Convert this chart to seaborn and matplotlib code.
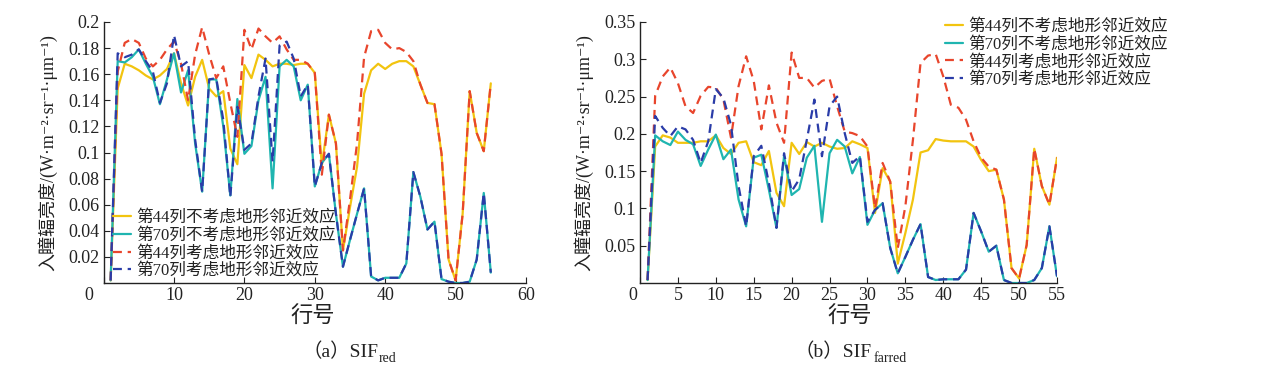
import numpy as np
import pandas as pd
import matplotlib
matplotlib.use("Agg")
import matplotlib.pyplot as plt
import matplotlib.transforms as mtransforms
import seaborn as sns

# ---------------- data ----------------
rows = list(range(1, 56))

# (a) SIF_red
red_c44_no = [0.002, 0.149, 0.168, 0.166, 0.163, 0.159, 0.156, 0.159, 0.164, 0.176,
              0.153, 0.136, 0.158, 0.171, 0.149, 0.143, 0.147, 0.103, 0.091, 0.167,
              0.157, 0.175, 0.171, 0.166, 0.168, 0.168, 0.167, 0.168, 0.168, 0.161,
              0.090, 0.129, 0.107, 0.025, 0.058, 0.089, 0.145, 0.163, 0.168, 0.164,
              0.168, 0.170, 0.170, 0.166, 0.152, 0.138, 0.137, 0.099, 0.018, 0.002,
              0.053, 0.147, 0.115, 0.101, 0.153]
red_c70_no = [0.002, 0.170, 0.169, 0.173, 0.179, 0.168, 0.158, 0.137, 0.156, 0.176,
              0.146, 0.163, 0.107, 0.070, 0.156, 0.156, 0.120, 0.067, 0.141, 0.099,
              0.105, 0.140, 0.158, 0.0725, 0.166, 0.171, 0.166, 0.140, 0.152, 0.074,
              0.092, 0.099, 0.053, 0.0125, 0.033, 0.053, 0.0725, 0.005, 0.002, 0.004,
              0.004, 0.004, 0.015, 0.085, 0.066, 0.041, 0.047, 0.003, 0.001, 0.000,
              0.000, 0.001, 0.018, 0.069, 0.008]
red_c44_yes = [0.002, 0.162, 0.184, 0.187, 0.184, 0.172, 0.166, 0.171, 0.179, 0.185,
               0.168, 0.140, 0.175, 0.196, 0.175, 0.157, 0.166, 0.138, 0.112, 0.194,
               0.179, 0.195, 0.189, 0.184, 0.189, 0.179, 0.171, 0.171, 0.168, 0.161,
               0.083, 0.129, 0.107, 0.025, 0.064, 0.107, 0.173, 0.193, 0.194, 0.184,
               0.179, 0.180, 0.177, 0.170, 0.152, 0.138, 0.137, 0.099, 0.018, 0.002,
               0.053, 0.147, 0.115, 0.101, 0.153]
red_c70_yes = [0.002, 0.176, 0.173, 0.175, 0.179, 0.170, 0.162, 0.138, 0.153, 0.190,
               0.166, 0.170, 0.110, 0.070, 0.156, 0.157, 0.125, 0.066, 0.135, 0.102,
               0.107, 0.143, 0.172, 0.093, 0.182, 0.185, 0.172, 0.143, 0.152, 0.074,
               0.092, 0.099, 0.053, 0.0125, 0.033, 0.053, 0.0725, 0.005, 0.002, 0.004,
               0.004, 0.004, 0.015, 0.085, 0.066, 0.041, 0.047, 0.003, 0.001, 0.000,
               0.000, 0.001, 0.018, 0.069, 0.008]

# (b) SIF_farred
far_c44_no = [0.004, 0.183, 0.198, 0.195, 0.188, 0.188, 0.188, 0.190, 0.190, 0.198,
              0.181, 0.173, 0.188, 0.190, 0.162, 0.158, 0.177, 0.121, 0.103, 0.188,
              0.173, 0.189, 0.183, 0.188, 0.183, 0.180, 0.181, 0.190, 0.186, 0.181,
              0.094, 0.154, 0.136, 0.026, 0.067, 0.112, 0.175, 0.178, 0.193, 0.191,
              0.190, 0.190, 0.190, 0.183, 0.165, 0.150, 0.152, 0.112, 0.020, 0.006,
              0.051, 0.180, 0.130, 0.105, 0.168]
far_c70_no = [0.004, 0.198, 0.190, 0.185, 0.203, 0.192, 0.186, 0.157, 0.179, 0.199,
              0.166, 0.179, 0.112, 0.076, 0.168, 0.172, 0.125, 0.074, 0.170, 0.118,
              0.126, 0.168, 0.184, 0.082, 0.174, 0.192, 0.183, 0.147, 0.169, 0.078,
              0.098, 0.107, 0.047, 0.013, 0.035, 0.058, 0.079, 0.008, 0.004, 0.005,
              0.005, 0.005, 0.018, 0.094, 0.069, 0.042, 0.050, 0.004, 0.000, 0.000,
              0.000, 0.004, 0.020, 0.076, 0.009]
far_c44_yes = [0.004, 0.251, 0.277, 0.289, 0.268, 0.237, 0.228, 0.251, 0.263, 0.262,
               0.246, 0.195, 0.264, 0.304, 0.271, 0.206, 0.265, 0.215, 0.188, 0.309,
               0.275, 0.275, 0.262, 0.271, 0.274, 0.237, 0.203, 0.201, 0.197, 0.183,
               0.100, 0.161, 0.136, 0.047, 0.103, 0.192, 0.295, 0.305, 0.307, 0.277,
               0.239, 0.235, 0.219, 0.190, 0.168, 0.156, 0.152, 0.112, 0.020, 0.006,
               0.051, 0.180, 0.130, 0.105, 0.168]
far_c70_yes = [0.004, 0.224, 0.208, 0.197, 0.210, 0.206, 0.192, 0.161, 0.190, 0.260,
               0.248, 0.212, 0.130, 0.076, 0.170, 0.184, 0.134, 0.074, 0.174, 0.123,
               0.139, 0.192, 0.246, 0.170, 0.237, 0.250, 0.201, 0.161, 0.170, 0.082,
               0.098, 0.107, 0.047, 0.013, 0.035, 0.058, 0.079, 0.008, 0.004, 0.005,
               0.005, 0.005, 0.018, 0.094, 0.069, 0.042, 0.050, 0.004, 0.000, 0.000,
               0.000, 0.004, 0.020, 0.076, 0.009]

series_labels = ["第44列不考虑地形邻近效应", "第70列不考虑地形邻近效应",
                 "第44列考虑地形邻近效应", "第70列考虑地形邻近效应"]
red_ticks_x = [0, 10, 20, 30, 40, 50, 60]
red_ticks_y = [0.02, 0.04, 0.06, 0.08, 0.1, 0.12, 0.14, 0.16, 0.18, 0.2]
red_ticklabels_y = ["0.02", "0.04", "0.06", "0.08", "0.1", "0.12", "0.14", "0.16", "0.18", "0.2"]
far_ticks_x = [0, 5, 10, 15, 20, 25, 30, 35, 40, 45, 50, 55]
far_ticks_y = [0.05, 0.1, 0.15, 0.2, 0.25, 0.3, 0.35]
far_ticklabels_y = ["0.05", "0.1", "0.15", "0.2", "0.25", "0.3", "0.35"]
xlabel = "行号"
ylabel = "入瞳辐亮度/(W·m⁻²·sr⁻¹·μm⁻¹)"
captions = [("（a）SIF", "red"), ("（b）SIF", "farred")]

# ---------------- style ----------------
sns.set_theme(style="ticks")
FAM = ["Liberation Serif", "Noto Sans CJK SC", "DejaVu Serif"]
plt.rcParams["font.family"] = FAM
plt.rcParams["axes.unicode_minus"] = False
INK = "#222222"

colors = ["#F2C40F", "#1FB5B0", "#E8452C", "#2A3CA8"]
styles = ["solid", "solid", "dash", "dash"]

fig = plt.figure(figsize=(12.69, 3.71), dpi=100)
ax1 = fig.add_axes([103.6 / 1269, 1 - 283 / 371, (526 - 103.6) / 1269, (283 - 22) / 371])
ax2 = fig.add_axes([640 / 1269, 1 - 283 / 371, (1057 - 640) / 1269, (283 - 22) / 371])


def draw(ax, data_list):
    frames = []
    for lab, vals in zip(series_labels, data_list):
        frames.append(pd.DataFrame({"row": rows, "val": vals, "series": lab}))
    df = pd.concat(frames, ignore_index=True)
    for lab, col, st in zip(series_labels, colors, styles):
        sub = df[df["series"] == lab]
        kw = dict(lw=1.6, color=col, label=lab)
        if st == "dash":
            kw["dashes"] = (4, 2.6)
            kw["lw"] = 1.6
        sns.lineplot(data=sub, x="row", y="val", ax=ax, estimator=None, sort=False, **kw)


draw(ax1, [red_c44_no, red_c70_no, red_c44_yes, red_c70_yes])
draw(ax2, [far_c44_no, far_c70_no, far_c44_yes, far_c70_yes])

for ax, xt, yt, ytl, xlim, ylim, zshift in [
    (ax1, red_ticks_x, red_ticks_y, red_ticklabels_y, (0, 60), (0, 0.2), -15),
    (ax2, far_ticks_x, far_ticks_y, far_ticklabels_y, (0, 55), (0, 0.35), -7),
]:
    ax.set_xlim(*xlim)
    ax.set_ylim(*ylim)
    ax.set_xticks(xt)
    ax.set_xticklabels([str(v) for v in xt])
    ax.set_yticks(yt)
    ax.set_yticklabels(ytl)
    for s in ["top", "right"]:
        ax.spines[s].set_visible(False)
    for s in ["left", "bottom"]:
        ax.spines[s].set_color(INK)
        ax.spines[s].set_linewidth(1.0)
    ax.tick_params(direction="in", length=4, width=0.8, colors=INK,
                   labelsize=13, pad=3)
    for t in ax.get_xticklabels() + ax.get_yticklabels():
        t.set_family(FAM)
        t.set_color(INK)
    # the "0" label sits a little left of the origin in the reference
    lbl0 = ax.get_xticklabels()[0]
    lbl0.set_transform(lbl0.get_transform() +
                       mtransforms.ScaledTranslation(zshift / 100, 0, fig.dpi_scale_trans))
    ax.set_xlabel("")
    ax.set_ylabel(ylabel, fontsize=13, family=FAM, color=INK, labelpad=8)
    ax.set_facecolor("white")

leg_prop = dict(family=FAM, size=12)
l1 = ax1.legend(loc="lower left", bbox_to_anchor=(113 / 1269, 1 - 279 / 371),
                bbox_transform=fig.transFigure, frameon=False,
                prop=leg_prop, handlelength=1.1, handletextpad=0.3,
                labelspacing=0.1, borderaxespad=0.0, borderpad=0.0)
l2 = ax2.legend(loc="upper left", bbox_to_anchor=(945 / 1269, 1 - 19 / 371),
                bbox_transform=fig.transFigure, frameon=False,
                prop=leg_prop, handlelength=1.1, handletextpad=0.3,
                labelspacing=0.1, borderaxespad=0.0, borderpad=0.0)
for l in (l1, l2):
    for t in l.get_texts():
        t.set_color(INK)

fig.text(313 / 1269, 1 - 317 / 371, xlabel, ha="center", va="center",
         fontsize=16, family=FAM, color=INK)
fig.text(850 / 1269, 1 - 317 / 371, xlabel, ha="center", va="center",
         fontsize=16, family=FAM, color=INK)

renderer = fig.canvas.get_renderer()
for (main, sub), x0 in [(captions[0], 302), (captions[1], 795)]:
    t = fig.text(x0 / 1269, 1 - 352 / 371, main, ha="left", va="center",
                 fontsize=14, family=FAM, color=INK)
    bb = t.get_window_extent(renderer=renderer)
    fig.text((bb.x1 + 1) / 1269, 1 - 359 / 371, sub, ha="left", va="center",
             fontsize=10, family=FAM, color=INK)

fig.savefig("out.png", dpi=100, facecolor="white")
